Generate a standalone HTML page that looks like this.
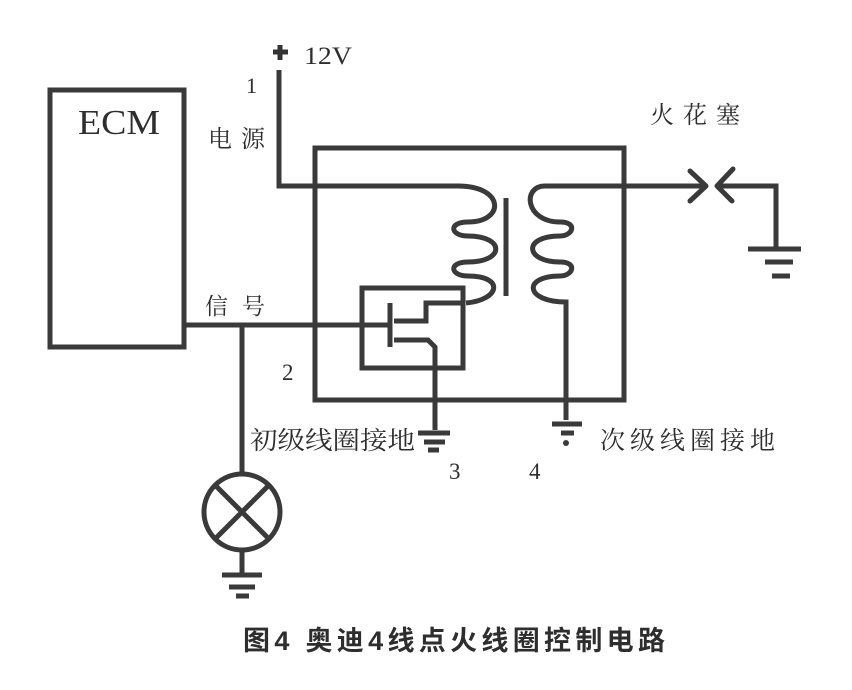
<!DOCTYPE html>
<html><head><meta charset="utf-8"><style>
html,body{margin:0;padding:0;background:#fff;}
svg{display:block}
.t{font-family:"Liberation Serif","Noto Serif CJK SC",serif;fill:#2e2e2e}
.c{font-family:"Liberation Sans","Noto Sans CJK SC",sans-serif;fill:#2e2e2e}
</style></head><body>
<svg width="852" height="690" viewBox="0 0 852 690" xmlns="http://www.w3.org/2000/svg">
<g fill="none" stroke="#3a3a3a" stroke-width="5" stroke-linecap="butt" stroke-linejoin="miter">
<rect x="50" y="90" width="134" height="257"/>
<path d="M184 325 H390"/>
<path d="M242 325 V474"/>
<circle cx="242" cy="512" r="38"/>
<path d="M215 485 L269 539 M269 485 L215 539"/>
<path d="M242 550 V574 M222 575 H262 M229 587 H255 M236 596 H249"/>
<path d="M279 70 V186 H460"/>
<rect x="315" y="148" width="309" height="252"/>
<path d="M458 186 C505 186 505 222 468 222 C448 222 450 236 468 236 C505 236 505 262 468 262 C448 262 450 276 468 276 C505 276 500 300 466 303"/>
<path d="M506 198 V296"/>
<path d="M704 186 H545 C522 186 525 222 560 222 C578 222 573 236 560 236 C522 236 525 262 560 262 C578 262 573 276 560 276 C522 276 525 302 566 302 V420"/>
<path d="M552 424 H582 M561 433 H574"/>
<path d="M690 171 L706 186 L690 201 M733 169 L717 186 L732 201" stroke-linejoin="round" stroke-linecap="round"/>
<path d="M718 186 H776 V248"/>
<path d="M748 249 H801 M765 262 H793 M772 276 H790"/>
<rect x="362" y="288" width="101" height="80"/>
<path d="M390 303 V347"/>
<path d="M394 321 H426 V303 H463"/>
<path d="M394 340 H428 L435 347 V430"/>
<path d="M418 433 H450 M424 442 H445 M428 450 H439"/>
</g>
<circle cx="566" cy="443" r="3" fill="#3a3a3a"/>
<path d="M273 52 H288 M280 45 V60" stroke="#333" stroke-width="5"/>
<text class="t" x="304" y="64" font-size="25" textLength="48" lengthAdjust="spacingAndGlyphs">12V</text>
<text class="t" x="246" y="93" font-size="22">1</text>
<text class="t" x="208" y="147" font-size="24" textLength="57" lengthAdjust="spacing">电源</text>
<text class="t" x="78" y="134" font-size="35" textLength="82" lengthAdjust="spacingAndGlyphs">ECM</text>
<text class="t" x="650" y="123" font-size="24" textLength="90" lengthAdjust="spacing">火花塞</text>
<text class="t" x="205" y="314" font-size="23" textLength="60" lengthAdjust="spacing">信号</text>
<text class="t" x="282" y="380" font-size="23">2</text>
<text class="t" x="250" y="449" font-size="25" textLength="165" lengthAdjust="spacingAndGlyphs">初级线圈接地</text>
<text class="t" x="449" y="479" font-size="23">3</text>
<text class="t" x="529" y="479" font-size="23">4</text>
<text class="t" x="600" y="449" font-size="25" textLength="175" lengthAdjust="spacing">次级线圈接地</text>
<text class="c" x="243" y="650" font-size="27" font-weight="bold" textLength="422" lengthAdjust="spacing">图4 奥迪4线点火线圈控制电路</text>
</svg>
</body></html>
